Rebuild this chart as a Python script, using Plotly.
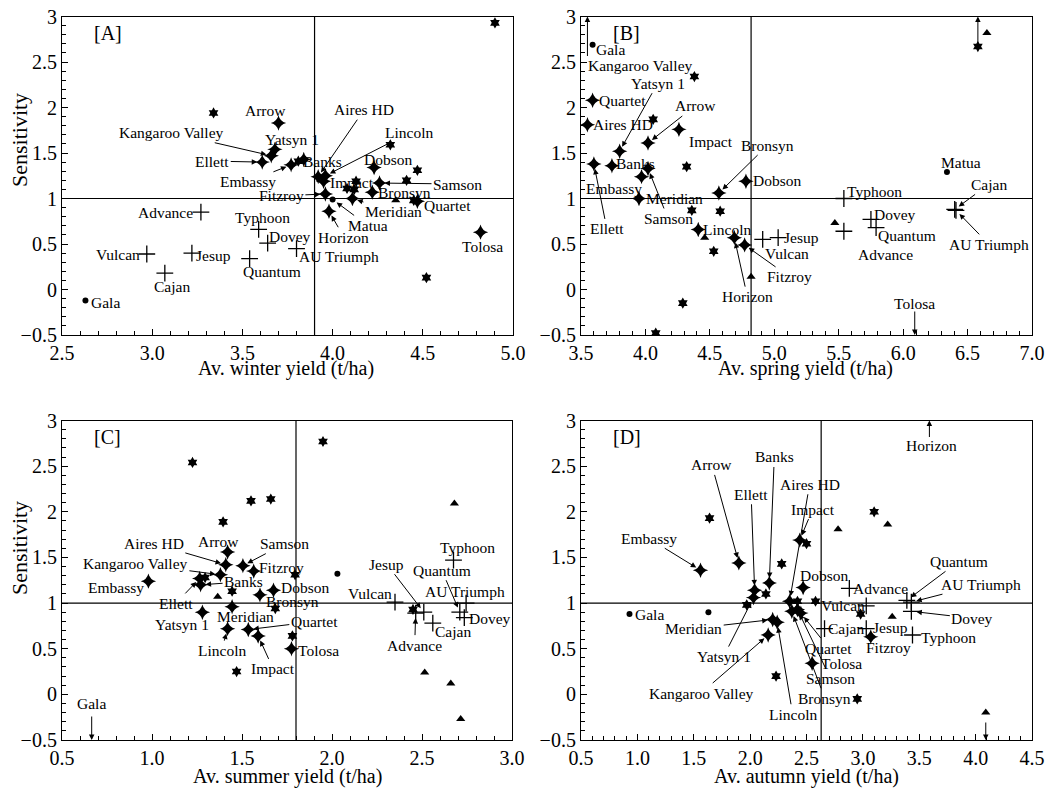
import plotly.graph_objects as go

FONT = "Liberation Serif"

# ---------------- DATA ----------------
varieties = ["Advance", "Aires HD", "Arrow", "AU Triumph", "Banks", "Bronsyn", "Cajan",
             "Dobson", "Dovey", "Ellett", "Embassy", "Fitzroy", "Gala", "Horizon", "Impact",
             "Jesup", "Kangaroo Valley", "Lincoln", "Matua", "Meridian", "Quantum", "Quartet",
             "Samson", "Tolosa", "Typhoon", "Vulcan", "Yatsyn 1"]
plus_varieties = ["Advance", "AU Triumph", "Cajan", "Dovey", "Jesup", "Quantum", "Typhoon", "Vulcan"]
circle_varieties = ["Gala", "Matua"]

winter_yield = [3.27, 3.92, 3.70, 3.80, 3.84, 4.22, 3.07, 4.23, 3.64, 3.61, 3.77, 3.96, 2.63, 3.98,
                3.95, 3.22, 3.66, 3.96, 4.00, 4.11, 3.54, 4.47, 4.26, 4.82, 3.59, 2.97, 3.68]
winter_sens = [0.85, 1.24, 1.83, 0.45, 1.43, 1.07, 0.18, 1.34, 0.51, 1.40, 1.37, 1.05, -0.12, 0.86,
               1.19, 0.40, 1.47, 1.25, 0.99, 1.00, 0.34, 0.97, 1.17, 0.63, 0.66, 0.39, 1.54]

spring_yield = [5.54, 3.55, 4.02, 6.41, 3.74, 4.57, 6.40, 4.78, 5.75, 3.60, 3.97, 4.77, 3.59, 4.69,
                4.26, 5.03, 3.55, 4.41, 6.34, 3.95, 5.79, 3.59, 4.02, 6.09, 5.54, 4.91, 3.80]
spring_sens = [0.64, 1.81, 1.61, 0.87, 1.36, 1.06, 0.88, 1.19, 0.77, 1.38, 1.24, 0.49, 2.69, 0.57,
               1.76, 0.57, 3.30, 0.66, 1.29, 1.00, 0.68, 2.08, 1.33, -0.75, 1.00, 0.55, 1.52]

summer_yield = [2.465, 1.41, 1.42, 2.745, 1.27, 1.60, 2.56, 1.675, 2.735, 1.265, 0.98, 1.565, 0.665, None,
                1.59, 2.51, 1.38, 1.42, 2.03, 1.445, 2.71, 1.535, 1.505, 1.775, 2.675, 2.35, 1.28]
summer_sens = [0.89, 1.42, 1.56, 1.00, 1.20, 1.09, 0.78, 1.14, 0.84, 1.27, 1.24, 1.35, -0.75, None,
               0.64, 0.90, 1.31, 0.72, 1.32, 0.96, 0.90, 0.71, 1.41, 0.50, 1.47, 1.01, 0.90]

autumn_yield = [2.88, 2.35, 1.90, 3.43, 2.17, 2.37, 2.66, 2.47, 3.43, 2.04, 1.56, 3.07, 0.93, 3.59,
                2.44, 3.03, 2.16, 2.24, 1.63, 2.20, 3.39, 2.45, 2.42, 2.55, 3.44, 3.03, 2.03]
autumn_sens = [1.16, 1.02, 1.44, 1.01, 1.22, 0.91, 0.72, 1.17, 0.91, 1.14, 1.36, 0.63, 0.88, 3.30,
               1.69, 0.72, 0.65, 0.79, 0.90, 0.82, 1.03, 0.89, 0.93, 0.34, 0.65, 0.97, 1.06]

mean_yield = [3.9, 4.82, 1.8, 2.63]

# other (unlabelled) entries
winter_other_star_x = [3.34, 4.90, 4.32, 4.47, 4.41, 4.08, 4.13, 4.12, 3.81, 4.52, 4.45]
winter_other_star_y = [1.94, 2.93, 1.59, 1.31, 1.20, 1.11, 1.19, 1.10, 1.41, 0.13, 0.98]
winter_other_tri_x = [4.35]
winter_other_tri_y = [0.98]

spring_other_star_x = [4.38, 4.06, 4.32, 4.36, 4.58, 4.53, 4.29, 4.08, 6.58]
spring_other_star_y = [2.34, 1.87, 1.35, 0.87, 0.86, 0.42, -0.15, -0.48, 2.67]
spring_other_tri_x = [4.46, 4.82, 5.47, 6.65]
spring_other_tri_y = [0.57, 0.14, 0.73, 2.82]

summer_other_star_x = [1.225, 1.55, 1.66, 1.395, 1.295, 1.445, 1.685, 1.795, 1.95, 1.47, 1.78, 2.45]
summer_other_star_y = [2.54, 2.12, 2.14, 1.89, 1.28, 1.13, 0.94, 1.31, 2.77, 0.25, 0.64, 0.93]
summer_other_tri_x = [1.365, 2.68, 2.515, 2.66, 2.715]
summer_other_tri_y = [1.07, 2.09, 0.24, 0.12, -0.27]

autumn_other_star_x = [1.64, 1.97, 2.14, 2.28, 2.50, 2.23, 2.58, 3.10, 2.98, 2.95, 2.42]
autumn_other_star_y = [1.93, 0.98, 1.10, 1.43, 1.65, 0.20, 1.02, 2.00, 0.88, -0.05, 1.02]
autumn_other_tri_x = [2.78, 3.22, 3.26, 4.09]
autumn_other_tri_y = [1.81, 1.86, 0.85, -0.20]

x_titles = ["Av. winter yield (t/ha)", "Av. spring yield (t/ha)",
            "Av. summer yield (t/ha)", "Av. autumn yield (t/ha)"]
panel_tags = ["[A]", "[B]", "[C]", "[D]"]

# ---------------- LABEL LAYOUT (pixel offsets of label centre from point) ----------------
labels_A = {"Arrow": (-13, -12, 0), "Yatsyn 1": (17, -10, 0), "Kangaroo Valley": (-100, -23, 1),
            "Ellett": (-50, -1, 1), "Embassy": (-43, 17, 1), "Banks": (19, 2, 0), "Fitzroy": (-44, 2, 1),
            "Aires HD": (46, -67, 1), "Lincoln": (84, -43, 1), "Impact": (28, 1, 0), "Dobson": (14, -8, 0),
            "Samson": (78, 1, 1), "Bronsyn": (32, 0, 0), "Meridian": (41, 13, 1), "Quartet": (30, 4, 0),
            "Matua": (35, 26, 1), "Horizon": (15, 26, 1), "Tolosa": (2, 14, 0), "AU Triumph": (42, 8, 0),
            "Dovey": (22, -7, 0), "Typhoon": (4, -12, 0), "Quantum": (22, 13, 0), "Advance": (-35, 0, 0),
            "Vulcan": (-28.5, 0, 0), "Jesup": (22, 2, 0), "Cajan": (7, 13, 0), "Gala": (20, 2, 0)}
labels_B = {"Gala": (18, 5, 0), "Yatsyn 1": (38, -68, 1), "Quartet": (30, 0, 0), "Arrow": (47, -37, 1),
            "Aires HD": (36, 0, 0), "Impact": (32, 12, 0), "Bronsyn": (49, -48, 1), "Banks": (24, -2, 0),
            "Embassy": (-28, 12, 1), "Samson": (20, 50, 1), "Meridian": (36, 0, 0), "Dobson": (31, -1, 0),
            "Ellett": (13, 65, 1), "Lincoln": (29, 0, 0), "Jesup": (23, 0, 0), "Vulcan": (24, 14, 0),
            "Fitzroy": (45, 32, 1), "Horizon": (13, 59, 1), "Typhoon": (31, -7, 0), "Matua": (14, -10, 0),
            "Cajan": (34, -25, 1), "AU Triumph": (33, 34, 1), "Dovey": (24, -5, 0), "Quantum": (31, 8, 0),
            "Advance": (42, 23, 1)}
labels_C = {"Arrow": (-9, -10, 0), "Aires HD": (-72, -21, 1), "Kangaroo Valley": (-85, -11, 1),
            "Samson": (42, -22, 1), "Fitzroy": (28, -4, 0), "Embassy": (-32, 6, 0), "Banks": (43, -3, 1),
            "Ellett": (-24, 25, 1), "Dobson": (31, -3, 0), "Bronsyn": (32, 7, 0), "Yatsyn 1": (-20, 12, 0),
            "Meridian": (13, 10, 0), "Lincoln": (-6, 22, 1), "Quartet": (66, -8, 1), "Impact": (15, 33, 1),
            "Tolosa": (27, 2, 0), "Typhoon": (14, -13, 0), "Jesup": (-37, -48, 1), "Quantum": (-18, -42, 1),
            "AU Triumph": (-1, -12, 0), "Vulcan": (-25, -9, 0), "Dovey": (26, 1, 0), "Cajan": (20, 8, 0),
            "Advance": (-1, 32, 1)}
labels_D = {"Embassy": (-52, -32, 1), "Arrow": (-27, -98, 1), "Ellett": (-3.5, -96, 1), "Banks": (5, -126, 1),
            "Aires HD": (20, -117, 1), "Impact": (13, -31, 1), "Dobson": (21, -12, 0), "Quantum": (52, -39, 1),
            "AU Triumph": (70, -18, 1), "Advance": (31, 0, 0), "Vulcan": (-23.5, 0, 0), "Dovey": (61, 7, 1),
            "Typhoon": (36, 2, 0), "Cajan": (21, 0, 0), "Jesup": (24, -1, 0), "Fitzroy": (18, 11, 0),
            "Gala": (20.5, 0, 0), "Meridian": (-79, 9, 1), "Yatsyn 1": (-30, 59, 1),
            "Kangaroo Valley": (-67, 58, 1), "Quartet": (28, 35, 1), "Tolosa": (29, 0, 0),
            "Samson": (33, 69, 1), "Bronsyn": (33, 87, 1), "Lincoln": (15.5, 92, 1)}
# off-scale varieties: (name, edge, arrow length px, label xshift, label yshift, xanchor)
offscale_B = [("Kangaroo Valley", "top", 41, -1, -48.5, "left"), ("Tolosa", "bottom", 25, 0, 31.7, "center")]
offscale_C = [("Gala", "bottom", 25, 0, 36.7, "center")]
offscale_D = [("Horizon", "top", 18, 2, -25, "center")]
# off-scale unlabelled entries: (x, edge, arrow length px)
offscale_other_B = [(6.58, "top", 28)]
offscale_other_D = [(4.09, "bottom", 19)]

# ---------------- FIGURE ----------------
W, H = 1052, 792
def fx(px):
    return px / W
def fy(py):
    return 1 - py / H

domains = [
    ([fx(62), fx(513)], [fy(335), fy(16.5)]),
    ([fx(581), fx(1032)], [fy(335), fy(16.5)]),
    ([fx(62), fx(512)], [fy(740), fy(420.5)]),
    ([fx(581), fx(1032)], [fy(740), fy(420.5)]),
]
x_ranges = [[2.5, 5.0], [3.5, 7.0], [0.5, 3.0], [0.5, 4.5]]

panels = [
    (winter_yield, winter_sens, winter_other_star_x, winter_other_star_y, winter_other_tri_x, winter_other_tri_y, labels_A, [], []),
    (spring_yield, spring_sens, spring_other_star_x, spring_other_star_y, spring_other_tri_x, spring_other_tri_y, labels_B, offscale_B, offscale_other_B),
    (summer_yield, summer_sens, summer_other_star_x, summer_other_star_y, summer_other_tri_x, summer_other_tri_y, labels_C, offscale_C, []),
    (autumn_yield, autumn_sens, autumn_other_star_x, autumn_other_star_y, autumn_other_tri_x, autumn_other_tri_y, labels_D, offscale_D, offscale_other_D),
]

fig = go.Figure()
annotations = []
shapes = []
lab_font = dict(family=FONT, size=15.5, color="black")
arrow_style = dict(arrowhead=2, arrowsize=1.1, arrowwidth=1, arrowcolor="black")

for i, (yl, se, osx, osy, otx, oty, labels, offs, offs_o) in enumerate(panels):
    xr = "x" if i == 0 else f"x{i+1}"
    yr = "y" if i == 0 else f"y{i+1}"
    groups = {"star": ([], []), "plus": ([], []), "circle": ([], [])}
    for v, xv, yv in zip(varieties, yl, se):
        if xv is None:
            continue
        g = "plus" if v in plus_varieties else ("circle" if v in circle_varieties else "star")
        groups[g][0].append(xv)
        groups[g][1].append(yv)
    fig.add_trace(go.Scatter(x=osx, y=osy, mode="markers", xaxis=xr, yaxis=yr, showlegend=False,
                             marker=dict(symbol="hexagram", size=8.5, color="black", line=dict(width=0))))
    fig.add_trace(go.Scatter(x=otx, y=oty, mode="markers", xaxis=xr, yaxis=yr, showlegend=False,
                             marker=dict(symbol="triangle-up", size=8, color="black", line=dict(width=0))))
    fig.add_trace(go.Scatter(x=groups["star"][0], y=groups["star"][1], mode="markers", xaxis=xr, yaxis=yr,
                             showlegend=False,
                             marker=dict(symbol="star-diamond", size=11, color="black", line=dict(width=0))))
    fig.add_trace(go.Scatter(x=groups["plus"][0], y=groups["plus"][1], mode="markers", xaxis=xr, yaxis=yr,
                             showlegend=False,
                             marker=dict(symbol="cross-thin", size=12, color="black",
                                         line=dict(width=1.3, color="black"))))
    fig.add_trace(go.Scatter(x=groups["circle"][0], y=groups["circle"][1], mode="markers", xaxis=xr, yaxis=yr,
                             showlegend=False,
                             marker=dict(symbol="circle", size=6, color="black", line=dict(width=0))))

    # reference lines
    shapes.append(dict(type="line", xref=f"{xr} domain", yref=yr, x0=0, x1=1, y0=1, y1=1,
                       line=dict(color="black", width=1.2)))
    shapes.append(dict(type="line", xref=xr, yref=f"{yr} domain", x0=mean_yield[i], x1=mean_yield[i],
                       y0=0, y1=1, line=dict(color="black", width=1.2)))

    # labels
    for name, (dx, dy, arr) in labels.items():
        k = varieties.index(name)
        xv, yv = yl[k], se[k]
        if arr:
            annotations.append(dict(x=xv, y=yv, xref=xr, yref=yr, text=name, showarrow=True,
                                    ax=dx, ay=dy, axref="pixel", ayref="pixel", standoff=5,
                                    font=lab_font, **arrow_style))
        else:
            annotations.append(dict(x=xv, y=yv, xref=xr, yref=yr, text=name, showarrow=False,
                                    xanchor="center", yanchor="middle",
                                    xshift=dx, yshift=-dy, font=lab_font))
    # off-scale varieties
    for name, edge, alen, lxs, lys, anc in offs:
        k = varieties.index(name)
        xv = yl[k]
        ey = 3.0 if edge == "top" else -0.5
        annotations.append(dict(x=xv, y=ey, xref=xr, yref=yr, text="", showarrow=True,
                                ax=0, ay=alen if edge == "top" else -alen, axref="pixel", ayref="pixel",
                                **arrow_style))
        annotations.append(dict(x=xv, y=ey, xref=xr, yref=yr, text=name, showarrow=False,
                                xanchor=anc, yanchor="middle", xshift=lxs, yshift=lys, font=lab_font))
    for xv, edge, alen in offs_o:
        ey = 3.0 if edge == "top" else -0.5
        annotations.append(dict(x=xv, y=ey, xref=xr, yref=yr, text="", showarrow=True,
                                ax=0, ay=alen if edge == "top" else -alen, axref="pixel", ayref="pixel",
                                **arrow_style))

    # panel tag
    annotations.append(dict(x=0.066, y=0.948, xref=f"{xr} domain", yref=f"{yr} domain", text=panel_tags[i],
                            showarrow=False, xanchor="left", yanchor="middle",
                            font=dict(family=FONT, size=20, color="black")))

    axis_common = dict(showline=True, linecolor="black", linewidth=1.2, mirror=True, ticks="inside",
                       ticklen=6, tickcolor="black", tickwidth=1, showgrid=False, zeroline=False,
                       automargin=False, tickfont=dict(family=FONT, size=20, color="black"))
    xd, yd = domains[i]
    fig.layout[("xaxis" if i == 0 else f"xaxis{i+1}")] = dict(
        domain=xd, range=x_ranges[i], dtick=0.5, tick0=0, tickformat=".1f", anchor=yr,
        minor=dict(dtick=0.1, ticks="inside", ticklen=4, tickcolor="black"), **axis_common)
    fig.layout[("yaxis" if i == 0 else f"yaxis{i+1}")] = dict(
        domain=yd, range=[-0.5, 3.0], dtick=0.5, tick0=0, anchor=xr,
        minor=dict(dtick=0.1, ticks="inside", ticklen=4, tickcolor="black"), **axis_common)

# axis titles
title_font = dict(family=FONT, size=20, color="black")
for (cx, cy), t in zip([(286, 368), (805, 368), (287, 776), (806, 776)], x_titles):
    annotations.append(dict(x=fx(cx), y=fy(cy), xref="paper", yref="paper", text=t, showarrow=False,
                            xanchor="center", yanchor="middle", font=title_font))
for cy in [140, 548]:
    annotations.append(dict(x=fx(19), y=fy(cy), xref="paper", yref="paper", text="Sensitivity",
                            showarrow=False, textangle=-90, xanchor="center", yanchor="middle",
                            font=dict(family=FONT, size=22, color="black")))

fig.update_layout(width=W, height=H, margin=dict(l=0, r=0, t=0, b=0, autoexpand=False),
                  plot_bgcolor="white", paper_bgcolor="white", annotations=annotations, shapes=shapes,
                  showlegend=False)
fig.write_html("out.html", config={"displayModeBar": False},
               post_script="document.body.style.margin='0';document.body.style.overflow='hidden';")
